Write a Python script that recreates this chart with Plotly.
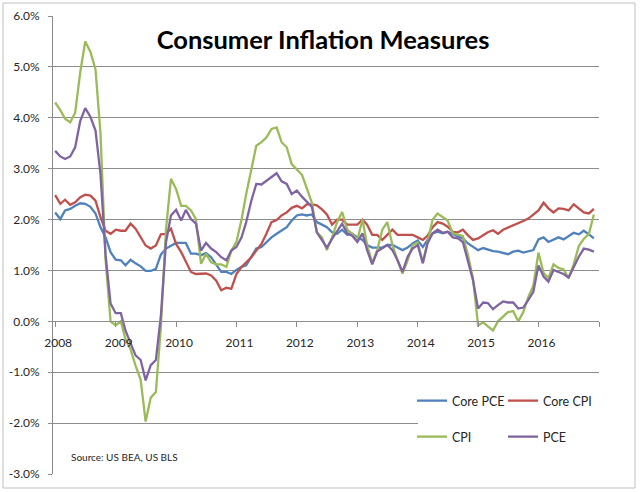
import pandas as pd
import plotly.graph_objects as go

# ---------------- data ----------------
months = pd.date_range("2008-01-01", "2016-12-01", freq="MS")

core_pce = [
    2.14, 2.01, 2.18, 2.21, 2.27, 2.32, 2.31, 2.25, 2.12, 1.85, 1.65, 1.36,
    1.21, 1.20, 1.10, 1.21, 1.14, 1.08, 0.99, 0.99, 1.03, 1.31, 1.43, 1.49,
    1.54, 1.54, 1.54, 1.33, 1.33, 1.30, 1.34, 1.26, 1.10, 0.97, 0.97, 0.93,
    1.01, 1.07, 1.10, 1.26, 1.43, 1.46, 1.56, 1.65, 1.72, 1.78, 1.85, 1.98,
    2.08, 2.10, 2.08, 2.10, 1.95, 1.90, 1.85, 1.75, 1.72, 1.80, 1.70, 1.72,
    1.65, 1.60, 1.50, 1.45, 1.45, 1.45, 1.50, 1.50, 1.45, 1.40, 1.45, 1.53,
    1.59, 1.46, 1.60, 1.73, 1.76, 1.73, 1.76, 1.72, 1.67, 1.63, 1.53, 1.46,
    1.40, 1.44, 1.41, 1.38, 1.37, 1.35, 1.32, 1.37, 1.39, 1.35, 1.38, 1.40,
    1.61, 1.65, 1.56, 1.61, 1.65, 1.61, 1.67, 1.74, 1.71, 1.78, 1.71, 1.63,
]

core_cpi = [
    2.48, 2.31, 2.39, 2.29, 2.34, 2.44, 2.49, 2.47, 2.37, 2.05, 1.78, 1.72,
    1.80, 1.78, 1.78, 1.92, 1.82, 1.65, 1.49, 1.43, 1.49, 1.71, 1.72, 1.82,
    1.52, 1.36, 1.16, 0.97, 0.93, 0.94, 0.94, 0.90, 0.80, 0.61, 0.66, 0.64,
    0.93, 1.07, 1.16, 1.26, 1.39, 1.52, 1.72, 1.95, 1.99, 2.08, 2.14, 2.23,
    2.27, 2.22, 2.30, 2.30, 2.28, 2.20, 2.10, 1.90, 2.00, 2.00, 1.90, 1.90,
    1.90, 2.00, 1.90, 1.70, 1.70, 1.60, 1.70, 1.80, 1.70, 1.70, 1.70, 1.70,
    1.65, 1.60, 1.68, 1.85, 1.95, 1.92, 1.86, 1.76, 1.75, 1.80, 1.69, 1.60,
    1.63, 1.70, 1.75, 1.79, 1.72, 1.80, 1.84, 1.88, 1.92, 1.97, 2.02, 2.10,
    2.18, 2.33, 2.22, 2.14, 2.22, 2.21, 2.18, 2.30, 2.22, 2.14, 2.12, 2.21,
]

cpi = [
    4.30, 4.15, 3.98, 3.91, 4.10, 4.90, 5.50, 5.30, 4.95, 3.70, 1.20, 0.00,
    -0.08, 0.00, -0.35, -0.55, -0.87, -1.15, -1.97, -1.50, -1.39, -0.12, 1.80, 2.80,
    2.60, 2.27, 2.27, 2.18, 2.01, 1.13, 1.33, 1.16, 1.12, 1.12, 1.07, 1.39,
    1.56, 2.00, 2.50, 3.00, 3.45, 3.52, 3.61, 3.78, 3.81, 3.52, 3.42, 3.09,
    2.98, 2.88, 2.62, 2.33, 1.75, 1.65, 1.40, 1.65, 1.95, 2.15, 1.80, 1.72,
    1.60, 2.00, 1.50, 1.15, 1.40, 1.80, 1.95, 1.50, 1.20, 0.94, 1.20, 1.50,
    1.55, 1.15, 1.55, 2.00, 2.12, 2.05, 1.98, 1.73, 1.70, 1.68, 1.30, 0.85,
    -0.08, -0.02, -0.10, -0.18, 0.00, 0.10, 0.18, 0.20, 0.00, 0.18, 0.48, 0.70,
    1.35, 0.95, 0.85, 1.12, 1.05, 1.02, 0.85, 1.12, 1.48, 1.62, 1.72, 2.10,
]

pce = [
    3.35, 3.24, 3.19, 3.24, 3.42, 3.94, 4.19, 4.02, 3.75, 2.90, 1.30, 0.35,
    0.16, 0.16, -0.18, -0.44, -0.67, -0.76, -1.16, -0.86, -0.76, 0.10, 1.55, 2.08,
    2.19, 1.98, 2.19, 2.01, 1.92, 1.39, 1.54, 1.43, 1.36, 1.26, 1.20, 1.39,
    1.46, 1.65, 1.95, 2.37, 2.70, 2.69, 2.76, 2.83, 2.91, 2.75, 2.70, 2.50,
    2.57, 2.45, 2.35, 2.25, 1.75, 1.60, 1.45, 1.62, 1.78, 1.92, 1.73, 1.68,
    1.56, 1.73, 1.40, 1.12, 1.37, 1.43, 1.50, 1.40, 1.20, 0.97, 1.27, 1.43,
    1.50, 1.14, 1.53, 1.73, 1.80, 1.74, 1.76, 1.65, 1.63, 1.56, 1.20, 0.81,
    0.25, 0.37, 0.36, 0.24, 0.32, 0.39, 0.37, 0.37, 0.25, 0.27, 0.42, 0.58,
    1.10, 0.88, 0.78, 1.01, 0.97, 0.93, 0.86, 1.06, 1.27, 1.43, 1.41, 1.37,
]

series_names = ["Core PCE", "Core CPI", "CPI", "PCE"]
series_colors = ["#4F81BD", "#C0504D", "#9BBB59", "#8064A2"]

y_tickvals = [-3, -2, -1, 0, 1, 2, 3, 4, 5, 6]
y_ticktext = ["-3.0%", "-2.0%", "-1.0%", "0.0%", "1.0%", "2.0%", "3.0%", "4.0%", "5.0%", "6.0%"]
x_tickvals = [f"{y}-01-01" for y in range(2008, 2017)]
x_ticktext = [str(y) for y in range(2008, 2017)]

title_text = "Consumer Inflation Measures"
source_text = "Source: US BEA, US BLS"

# ---------------- layout geometry ----------------
W, H = 640, 492
L, R, T, B = 53, 41, 16, 18
PW, PH = W - L - R, H - T - B


def px_x(px):
    return (px - L) / PW


def px_y(py):
    return 1 - (py - T) / PH


FONT = "Lato"
TXT = "#262626"
GRID = "#8C8C8C"

fig = go.Figure()
legend_ids = ["legend", "legend2", "legend3", "legend4"]
for name, vals, col, lg in zip(series_names, [core_pce, core_cpi, cpi, pce], series_colors, legend_ids):
    fig.add_trace(go.Scatter(x=months, y=vals, mode="lines", name=name,
                             line=dict(color=col, width=2.3), legend=lg))

leg_pos = {
    "legend": (412, 401),
    "legend2": (503, 401),
    "legend3": (412, 437),
    "legend4": (503, 437),
}
legends = {}
for lg, (lx, ly) in leg_pos.items():
    legends[lg] = dict(x=px_x(lx), y=px_y(ly), xanchor="left", yanchor="middle",
                       bgcolor="rgba(0,0,0,0)", borderwidth=0,
                       font=dict(family=FONT, size=12.5, color=TXT),
                       itemwidth=30, orientation="h")

fig.update_layout(
    template="none",
    width=W, height=H,
    margin=dict(l=L, r=R, t=T, b=B, pad=0, autoexpand=False),
    paper_bgcolor="white", plot_bgcolor="white",
    showlegend=True,
    title=dict(text=f"<b>{title_text}</b>", x=px_x(323), xref="paper",
               y=1 - 40 / H, yref="container", xanchor="center", yanchor="middle",
               font=dict(family=FONT, size=25.5, color="#000000")),
    xaxis=dict(
        type="date", range=["2007-12-19", "2017-01-01"],
        anchor="free", position=px_y(321), automargin=False,
        showgrid=False, zeroline=False,
        showline=True, linecolor=GRID, linewidth=1,
        tickmode="array", tickvals=x_tickvals, ticktext=x_ticktext,
        ticks="outside", ticklen=5, tickcolor=GRID, tickwidth=1,
        ticklabelstandoff=6, ticklabelshift=3,
        tickfont=dict(family=FONT, size=12, color=TXT),
        minor=dict(ticks="outside", ticklen=5, tickcolor=GRID, dtick="M12",
                   tick0="2008-01-01", showgrid=False),
    ),
    yaxis=dict(
        range=[-3, 6], domain=[0, 1], automargin=False,
        tickmode="array", tickvals=y_tickvals, ticktext=y_ticktext,
        showgrid=True, gridcolor=GRID, gridwidth=1, zeroline=False,
        showline=True, linecolor=GRID, linewidth=1,
        ticks="outside", ticklen=4, tickcolor=GRID,
        ticklabelstandoff=6,
        tickfont=dict(family=FONT, size=12, color=TXT),
    ),
    **legends,
)

# white box behind legend (hides the -2% gridline like the reference)
fig.add_shape(type="rect", xref="paper", yref="paper",
              x0=px_x(418), x1=px_x(601), y0=px_y(468), y1=px_y(380),
              fillcolor="white", line=dict(width=0), layer="above")
# outer chart border
fig.add_shape(type="rect", xref="paper", yref="paper",
              x0=px_x(3), x1=px_x(635), y0=px_y(488), y1=px_y(3),
              fillcolor="rgba(0,0,0,0)", line=dict(color="#BFBFBF", width=1), layer="above")

fig.add_annotation(text=source_text, xref="paper", yref="paper",
                   x=px_x(69), y=px_y(457), xanchor="left", yanchor="middle",
                   showarrow=False, font=dict(family=FONT, size=10, color=TXT))

fig.write_html("out.html",
               config={"displayModeBar": False},
               post_script="document.body.style.margin='0';document.body.style.overflow='hidden';")
